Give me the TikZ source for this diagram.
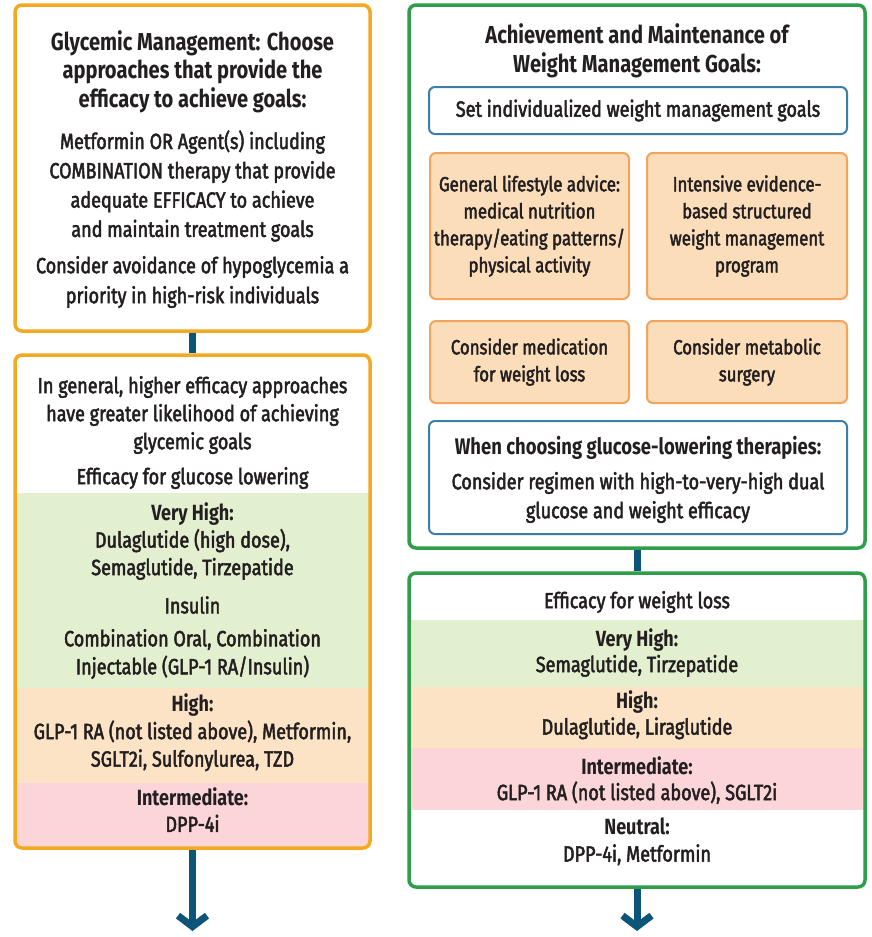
\documentclass[tikz,border=0pt]{standalone}
\usepackage{fontspec}
\usetikzlibrary{arrows.meta}
\newfontfamily\bodyf{Fira Sans}[FakeStretch=0.82,FakeBold=2.2]
\newfontfamily\headf{Fira Sans}[FakeStretch=0.82]
\definecolor{orB}{HTML}{F4A922}
\definecolor{grB}{HTML}{2F9E4A}
\definecolor{blB}{HTML}{3C7FA6}
\definecolor{arB}{HTML}{0D5479}
\definecolor{orS}{HTML}{F2A55A}
\definecolor{orF}{HTML}{FBDDBA}
\definecolor{bandG}{HTML}{E3F0D0}
\definecolor{bandO}{HTML}{FCE3C6}
\definecolor{bandP}{HTML}{FBD5D8}
\definecolor{txtc}{HTML}{231F20}
\tikzset{
  bigO/.style={draw=orB, line width=3.5pt, rounded corners=7pt, inner sep=0pt},
  bigG/.style={draw=grB, line width=3.5pt, rounded corners=7pt, inner sep=0pt},
  blueb/.style={draw=blB, line width=2pt, rounded corners=6pt, fill=white, inner sep=0pt},
  orb/.style={draw=orS, line width=2pt, rounded corners=6pt, fill=orF, inner sep=0pt},
  conn/.style={draw=arB, line width=7pt},
  arrow/.style={conn, -{Straight Barb[length=11pt,width=29pt]}},
  txt/.style={align=center, text=txtc, inner sep=0pt, font=\bodyf\fontsize{22}{28}\selectfont},
  stxt/.style={align=center, text=txtc, inner sep=0pt, font=\bodyf\fontsize{20.5}{27}\selectfont},
  head/.style={align=center, text=txtc, inner sep=0pt, font=\headf\bfseries\fontsize{24.5}{28.5}\selectfont},
}
\newcommand{\hb}[1]{{\headf\bfseries #1}}
\begin{document}
\begin{tikzpicture}[x=1pt,y=-1pt]
\useasboundingbox (0,0) rectangle (872,937);
\fill[white] (0,0) rectangle (872,937);

% bands left box 2
\begin{scope}
\clip[rounded corners=7pt] (15,355) rectangle (370,848);
\fill[bandG] (0,493) rectangle (380,688);
\fill[bandO] (0,688) rectangle (380,783);
\fill[bandP] (0,783) rectangle (380,860);
\end{scope}
% bands right box 2
\begin{scope}
\clip[rounded corners=7pt] (409,573) rectangle (865,887);
\fill[bandG] (400,620) rectangle (870,687);
\fill[bandO] (400,687) rectangle (870,748);
\fill[bandP] (400,748) rectangle (870,810);
\end{scope}

% boxes
\node[bigO, minimum width=355pt, minimum height=326pt] (L1) at (192.5,168) {};
\node[bigO, minimum width=355pt, minimum height=493pt] (L2) at (192.5,601.5) {};
\node[bigG, minimum width=456pt, minimum height=543pt] (R1) at (637,276.5) {};
\node[bigG, minimum width=456pt, minimum height=314pt] (R2) at (637,730) {};
\node[blueb, minimum width=418pt, minimum height=47pt] (S1) at (638,110.5) {};
\node[orb, minimum width=199pt, minimum height=146pt] (O1) at (529.5,226) {};
\node[orb, minimum width=200pt, minimum height=146pt] (O2) at (747,226) {};
\node[orb, minimum width=199pt, minimum height=82pt] (O3) at (529.5,362) {};
\node[orb, minimum width=200pt, minimum height=82pt] (O4) at (747,362) {};
\node[blueb, minimum width=418pt, minimum height=113pt] (S2) at (638,477.5) {};

% connectors
\coordinate (eL) at (192.5,931);
\coordinate (eR) at (637,931);
\draw[conn] (L1.south) -- (L2.north);
\draw[conn] (R1.south) -- (R2.north);
\draw[arrow] (L2.south) -- (eL);
\draw[arrow] (R2.south) -- (eR);

% left box 1 texts
\node[head] (t1) at (192.5,71.5) {Glycemic Management: Choose\\approaches that provide the\\efficacy to achieve goals:};
\node[txt, font=\bodyf\fontsize{22}{29.3}\selectfont] (t2) at (192.5,186) {Metformin OR Agent(s) including\\COMBINATION therapy that provide\\adequate EFFICACY to achieve\\and maintain treatment goals};
\node[txt, font=\bodyf\fontsize{22}{30}\selectfont] (t3) at (192.5,282) {Consider avoidance of hypoglycemia a\\priority in high-risk individuals};

% left box 2 texts
\node[txt] (t4) at (192.5,415) {In general, higher efficacy approaches\\have greater likelihood of achieving\\glycemic goals};
\node[txt] (t5) at (192.5,478) {Efficacy for glucose lowering};
\node[txt, font=\bodyf\fontsize{22}{27.5}\selectfont] (t6) at (192.5,541) {\hb{Very High:}\\Dulaglutide (high dose),\\Semaglutide, Tirzepatide};
\node[txt] (t7) at (192.5,605) {Insulin};
\node[txt] (t8) at (192.5,654) {Combination Oral, Combination\\Injectable (GLP-1 RA/Insulin)};
\node[txt, font=\bodyf\fontsize{22}{27.5}\selectfont] (t9) at (192.5,732.5) {\hb{High:}\\GLP-1 RA (not listed above), Metformin,\\SGLT2i, Sulfonylurea, TZD};
\node[txt, font=\bodyf\fontsize{22}{26}\selectfont] (t10) at (192.5,810) {\hb{Intermediate:}\\DPP-4i};

% right box 1 texts
\node[head] (r1) at (637,51) {Achievement and Maintenance of\\Weight Management Goals:};
\node[txt] (r2) at (S1) {Set individualized weight management goals};
\node[stxt] (r3) at (O1) {General lifestyle advice:\\medical nutrition\\therapy/eating patterns/\\physical activity};
\node[stxt] (r4) at (O2) {Intensive evidence-\\based structured\\weight management\\program};
\node[stxt] (r5) at (O3) {Consider medication\\for weight loss};
\node[stxt] (r6) at (O4) {Consider metabolic\\surgery};
\node[head, font=\headf\bfseries\fontsize{22.5}{28}\selectfont] (r7) at (638,448) {When choosing glucose-lowering therapies:};
\node[txt, font=\bodyf\fontsize{22}{29}\selectfont] (r8) at (638,497.5) {Consider regimen with high-to-very-high dual\\glucose and weight efficacy};

% right box 2 texts
\node[txt] (r9) at (637,602) {Efficacy for weight loss};
\node[txt, font=\bodyf\fontsize{22}{26}\selectfont] (r10) at (637,652.5) {\hb{Very High:}\\Semaglutide, Tirzepatide};
\node[txt, font=\bodyf\fontsize{22}{26}\selectfont] (r11) at (637,715) {\hb{High:}\\Dulaglutide, Liraglutide};
\node[txt, font=\bodyf\fontsize{22}{26}\selectfont] (r12) at (637,780) {\hb{Intermediate:}\\GLP-1 RA (not listed above), SGLT2i};
\node[txt, font=\bodyf\fontsize{22}{27}\selectfont] (r13) at (637,841.5) {\hb{Neutral:}\\DPP-4i, Metformin};
\end{tikzpicture}
\end{document}
